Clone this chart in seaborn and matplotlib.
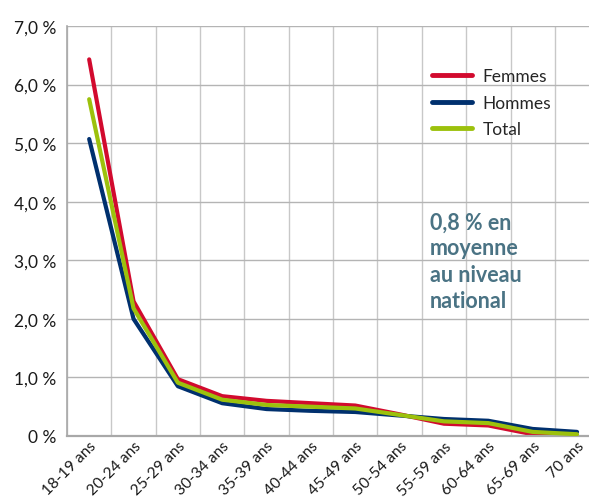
import matplotlib
matplotlib.use("Agg")
import matplotlib.pyplot as plt
import seaborn as sns
import pandas as pd
from matplotlib.ticker import FixedLocator, FuncFormatter

ages = ['18-19 ans', '20-24 ans', '25-29 ans', '30-34 ans', '35-39 ans', '40-44 ans',
        '45-49 ans', '50-54 ans', '55-59 ans', '60-64 ans', '65-69 ans', '70 ans']
femmes = [6.43, 2.30, 0.97, 0.68, 0.60, 0.56, 0.52, 0.37, 0.21, 0.18, 0.03, 0.00]
hommes = [5.07, 2.00, 0.85, 0.56, 0.46, 0.43, 0.41, 0.35, 0.29, 0.26, 0.12, 0.07]
total = [5.75, 2.18, 0.91, 0.62, 0.53, 0.50, 0.47, 0.36, 0.25, 0.22, 0.07, 0.03]

df = pd.DataFrame({
    'age': ages * 3,
    'taux': femmes + hommes + total,
    'sexe': ['Femmes'] * 12 + ['Hommes'] * 12 + ['Total'] * 12,
})

sns.set_theme(style="white")
plt.rcParams['font.family'] = ['Lato', 'DejaVu Sans']

fig = plt.figure(figsize=(5.89, 5.02), dpi=100)
ax = fig.add_axes([67 / 589, 1 - 437 / 502, 1 - 67 / 589, 410 / 502])

palette = {'Femmes': '#d20a2e', 'Hommes': '#00306e', 'Total': '#9cc10c'}
sns.lineplot(data=df, x='age', y='taux', hue='sexe', palette=palette,
             linewidth=3.0, sort=False, ax=ax)

# green drawn on top, as in the original
for line in ax.lines:
    if line.get_color() == '#9cc10c':
        line.set_zorder(4)

ax.set_xlim(-0.5, 11.27)
ax.set_ylim(0, 7.0)

ax.yaxis.set_major_locator(FixedLocator([0, 1, 2, 3, 4, 5, 6, 7]))
ax.yaxis.set_major_formatter(FuncFormatter(lambda v, p: '0 %' if v == 0 else f'{v:.1f} %'.replace('.', ',')))
ax.xaxis.set_minor_locator(FixedLocator([i - 0.5 for i in range(13)]))
ax.set_xticks(range(len(ages)))
ax.set_xticklabels(ages, rotation=45, ha='right', rotation_mode='anchor')

ax.grid(True, axis='y', color='#b4b4b4', linewidth=1.0)
ax.grid(True, axis='x', which='minor', color='#c8c8c8', linewidth=1.0)
ax.grid(False, axis='x', which='major')
ax.set_axisbelow(True)

ax.tick_params(axis='both', which='both', length=0, colors='#1a1a1a')
ax.tick_params(axis='x', pad=2, labelsize=11.2)
ax.tick_params(axis='y', pad=8, labelsize=12.5)
for s in ['top', 'right']:
    ax.spines[s].set_visible(False)
ax.spines['left'].set_color('#a8a8a8')
ax.spines['bottom'].set_color('#a8a8a8')
ax.spines['left'].set_linewidth(1.2)
ax.spines['bottom'].set_linewidth(1.6)

ax.set_xlabel('')
ax.set_ylabel('')

leg = ax.legend(loc='upper left', bbox_to_anchor=(0.67, 0.935), frameon=False,
                handlelength=2.3, handletextpad=0.6, labelspacing=0.6, fontsize=12.5)
for h in leg.get_lines():
    h.set_linewidth(3.5)

ax.text(0.695, 0.548, '0,8 % en\nmoyenne\nau niveau\nnational', transform=ax.transAxes,
        ha='left', va='top', fontsize=15.5, fontweight='bold', color='#4a7384',
        linespacing=1.3)

fig.savefig('out.png', dpi=100)
